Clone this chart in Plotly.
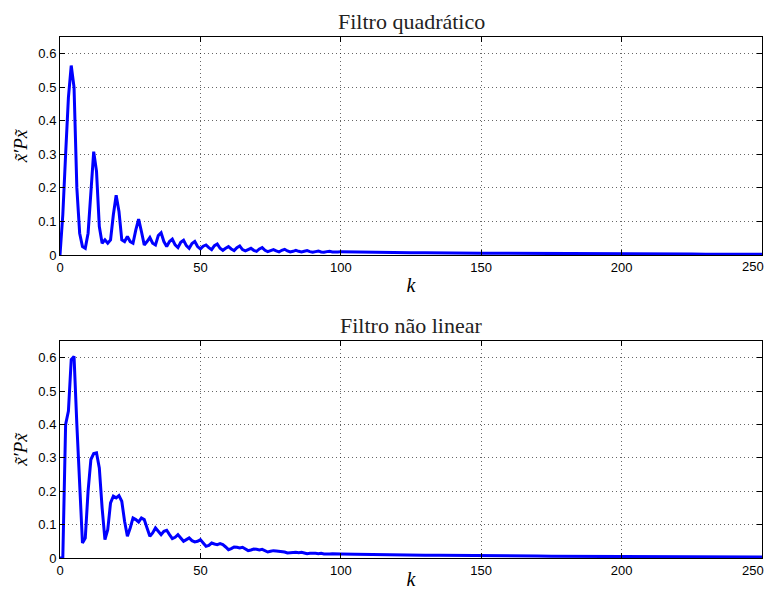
import plotly.graph_objects as go
from plotly.subplots import make_subplots

titles = ["Filtro quadrático", "Filtro não linear"]
y_label = "<i>x̃′Px̃</i>"
x_label = "<i>k</i>"
x_ticks = [0, 50, 100, 150, 200, 250]
x_tick_text = ["0", "50", "100", "150", "200", ""]  # last label drawn as annotation so it fits
last_x_label = "250"
y_ticks = [0, 0.1, 0.2, 0.3, 0.4, 0.5, 0.6]
y_tick_text = ["0", "0.1", "0.2", "0.3", "0.4", "0.5", "0.6"]

k_head = list(range(0, 101))
k_tail = list(range(105, 251, 5))
k_all = k_head + k_tail

quad_head = [
    0.0, 0.12, 0.30, 0.47, 0.565, 0.50, 0.20, 0.065, 0.025, 0.02,
    0.065, 0.20, 0.308, 0.25, 0.085, 0.035, 0.045, 0.035, 0.045, 0.12,
    0.178, 0.13, 0.045, 0.04, 0.055, 0.04, 0.035, 0.075, 0.107, 0.07,
    0.03, 0.04, 0.052, 0.035, 0.03, 0.058, 0.066, 0.04, 0.025, 0.04,
    0.047, 0.03, 0.022, 0.038, 0.044, 0.028, 0.02, 0.034, 0.04, 0.025,
    0.018, 0.026, 0.03, 0.022, 0.016, 0.028, 0.033, 0.02, 0.014, 0.02,
    0.025, 0.018, 0.013, 0.022, 0.027, 0.016, 0.012, 0.016, 0.02, 0.014,
    0.011, 0.018, 0.022, 0.014, 0.01, 0.013, 0.016, 0.012, 0.009, 0.014,
    0.017, 0.012, 0.009, 0.011, 0.014, 0.011, 0.009, 0.011, 0.013, 0.010,
    0.008, 0.010, 0.012, 0.009, 0.008, 0.010, 0.011, 0.009, 0.008, 0.009,
    0.010,
]
quad_tail = [
    0.009, 0.008, 0.008, 0.007, 0.007, 0.007, 0.006, 0.006, 0.006, 0.005,
    0.005, 0.005, 0.005, 0.004, 0.004, 0.004, 0.004, 0.004, 0.003, 0.003,
    0.003, 0.003, 0.003, 0.003, 0.003, 0.002, 0.002, 0.002, 0.002, 0.002,
]

nonlin_head = [
    0.0, 0.0, 0.40, 0.44, 0.594, 0.604, 0.40, 0.21, 0.045, 0.06,
    0.20, 0.295, 0.313, 0.315, 0.27, 0.15, 0.055, 0.085, 0.165, 0.185,
    0.18, 0.187, 0.17, 0.11, 0.065, 0.09, 0.12, 0.115, 0.108, 0.12,
    0.115, 0.09, 0.065, 0.075, 0.09, 0.08, 0.07, 0.08, 0.083, 0.07,
    0.058, 0.062, 0.07, 0.06, 0.05, 0.055, 0.06, 0.052, 0.048, 0.05,
    0.055, 0.045, 0.035, 0.038, 0.045, 0.042, 0.04, 0.043, 0.04, 0.033,
    0.025, 0.028, 0.033, 0.032, 0.03, 0.032, 0.028, 0.022, 0.024, 0.027,
    0.026, 0.024, 0.026, 0.022, 0.018, 0.02, 0.022, 0.021, 0.02, 0.021,
    0.018, 0.015, 0.016, 0.018, 0.017, 0.016, 0.017, 0.015, 0.013, 0.014,
    0.015, 0.014, 0.013, 0.014, 0.012, 0.011, 0.012, 0.013, 0.012, 0.011,
    0.012,
]
nonlin_tail = [
    0.011, 0.010, 0.010, 0.009, 0.009, 0.008, 0.008, 0.008, 0.007, 0.007,
    0.007, 0.006, 0.006, 0.006, 0.005, 0.005, 0.005, 0.005, 0.004, 0.004,
    0.004, 0.004, 0.004, 0.003, 0.003, 0.003, 0.003, 0.003, 0.003, 0.003,
]

series = [quad_head + quad_tail, nonlin_head + nonlin_tail]

fig = make_subplots(rows=2, cols=1, vertical_spacing=0.165)
for i, vals in enumerate(series):
    fig.add_trace(go.Scatter(x=k_all, y=vals, mode="lines",
                             line=dict(color="#0000ff", width=3),
                             showlegend=False), row=i + 1, col=1)

tick_font = dict(family="Liberation Sans, Arial, sans-serif", size=13, color="black")
serif = "Liberation Serif, Times New Roman, serif"
axis_common = dict(showline=True, linecolor="black", linewidth=1, mirror="ticks",
                   ticks="inside", ticklen=5, tickcolor="black",
                   showgrid=True, gridcolor="rgba(0,0,0,0.6)", griddash="1px,3px",
                   gridwidth=1, zeroline=False, tickfont=tick_font, automargin=False)
for r in (1, 2):
    fig.update_xaxes(range=[0, 250], tickvals=x_ticks, ticktext=x_tick_text,
                     title=dict(text=x_label, font=dict(family=serif, size=20, color="black"),
                                standoff=4),
                     row=r, col=1, **axis_common)
    fig.update_yaxes(range=[0, 0.65], tickvals=y_ticks, ticktext=y_tick_text,
                     title=dict(text=y_label, font=dict(family=serif, size=19, color="black"),
                                standoff=5),
                     row=r, col=1, **axis_common)

annotations = [
    dict(text=titles[0], x=0.5, xref="paper", y=1.0, yref="paper",
         yanchor="bottom", yshift=2, borderpad=0, showarrow=False,
         font=dict(family=serif, size=22, color="#222")),
    dict(text=titles[1], x=0.5, xref="paper", y=0.4165, yref="paper",
         yanchor="bottom", yshift=2, borderpad=0, showarrow=False,
         font=dict(family=serif, size=22, color="#222")),
]
for ydom_bottom in (0.5816, 0.0):
    annotations.append(dict(text=last_x_label, x=1.0, xref="paper", y=ydom_bottom, yref="paper",
                            xanchor="right", yanchor="middle", xshift=3, yshift=-12,
                            borderpad=0, showarrow=False, font=tick_font))

# page body has an 8px margin, so the figure is sized to fit inside the window without overflow
fig.update_layout(
    width=758, height=582,
    margin=dict(l=52, r=4, t=29, b=32),
    plot_bgcolor="white", paper_bgcolor="white",
    yaxis=dict(domain=[0.5816, 1.0]),
    yaxis2=dict(domain=[0.0, 0.4165]),
    annotations=annotations,
)

fig.write_html("out.html")
